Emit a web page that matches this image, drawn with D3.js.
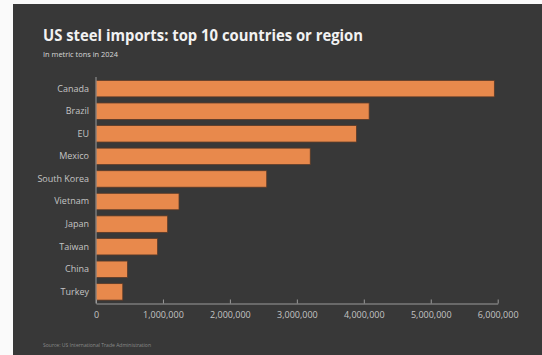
<!DOCTYPE html>
<html><head><meta charset="utf-8">
<script src="https://cdn.jsdelivr.net/npm/d3@7"></script>
<style>
html,body{margin:0;padding:0;background:#fafafa;}
svg{display:block;}
</style></head>
<body>
<svg id="c" width="542" height="355"></svg>
<script>
const categories = ["Canada","Brazil","EU","Mexico","South Korea","Vietnam","Japan","Taiwan","China","Turkey"];
const values = [5950000,4080000,3890000,3200000,2550000,1240000,1070000,920000,470000,400000];
const tickValues = [0,1000000,2000000,3000000,4000000,5000000,6000000];
const tickLabels = ["0","1,000,000","2,000,000","3,000,000","4,000,000","5,000,000","6,000,000"];
const title = "US steel imports: top 10 countries or region";
const subtitle = "In metric tons in 2024";
const source = "Source: US International Trade Administration";

const svg = d3.select("#c");
svg.append("rect").attr("x",13).attr("y",4).attr("width",529).attr("height",351).attr("fill","#383838");

const x = d3.scaleLinear().domain([0,6000000]).range([96,497.7]);
const y = d3.scaleBand().domain(categories).range([77,303.5]).paddingInner(0.27).paddingOuter(0.15);

svg.append("text").attr("x",43).attr("y",40.5).attr("fill","#f2f2f2")
  .attr("font-family","'Open Sans',sans-serif").attr("font-weight","bold").attr("font-size",16)
  .attr("textLength",320).attr("lengthAdjust","spacingAndGlyphs").text(title);
svg.append("text").attr("x",43).attr("y",56.5).attr("fill","#d8d8d8")
  .attr("font-family","'Open Sans',sans-serif").attr("font-size",7)
  .attr("textLength",75).attr("lengthAdjust","spacingAndGlyphs").text(subtitle);

svg.append("g").selectAll("rect").data(values).join("rect")
  .attr("x",x(0)).attr("y",(d,i)=>y(categories[i]))
  .attr("width",d=>x(d)-x(0)).attr("height",y.bandwidth())
  .attr("fill","#e8894c").attr("stroke","#5a3a28").attr("stroke-width",0.8);

const yAxis = svg.append("g").attr("transform","translate(96,0)")
  .call(d3.axisLeft(y).tickSize(0).tickPadding(7));
yAxis.select(".domain").attr("stroke","#9a9a9a").attr("d","M0,77V303.5");
yAxis.selectAll("text").attr("fill","#c4c4c4").attr("font-size",9).attr("font-family","'Open Sans',sans-serif");

const xAxis = svg.append("g").attr("transform","translate(0,303.5)")
  .call(d3.axisBottom(x).tickValues(tickValues).tickFormat((d,i)=>tickLabels[i]).tickSizeInner(-4).tickSizeOuter(0).tickPadding(8));
xAxis.select(".domain").attr("stroke","#9a9a9a").attr("stroke-width",1.2);
xAxis.selectAll(".tick line").attr("stroke","#9a9a9a");
xAxis.selectAll("text").attr("fill","#c4c4c4").attr("font-size",9).attr("font-family","'Open Sans',sans-serif");

svg.append("text").attr("x",43).attr("y",347).attr("fill","#8a8a8a")
  .attr("font-family","'Open Sans',sans-serif").attr("font-size",5)
  .attr("textLength",108).attr("lengthAdjust","spacingAndGlyphs").text(source);
</script>
</body></html>
